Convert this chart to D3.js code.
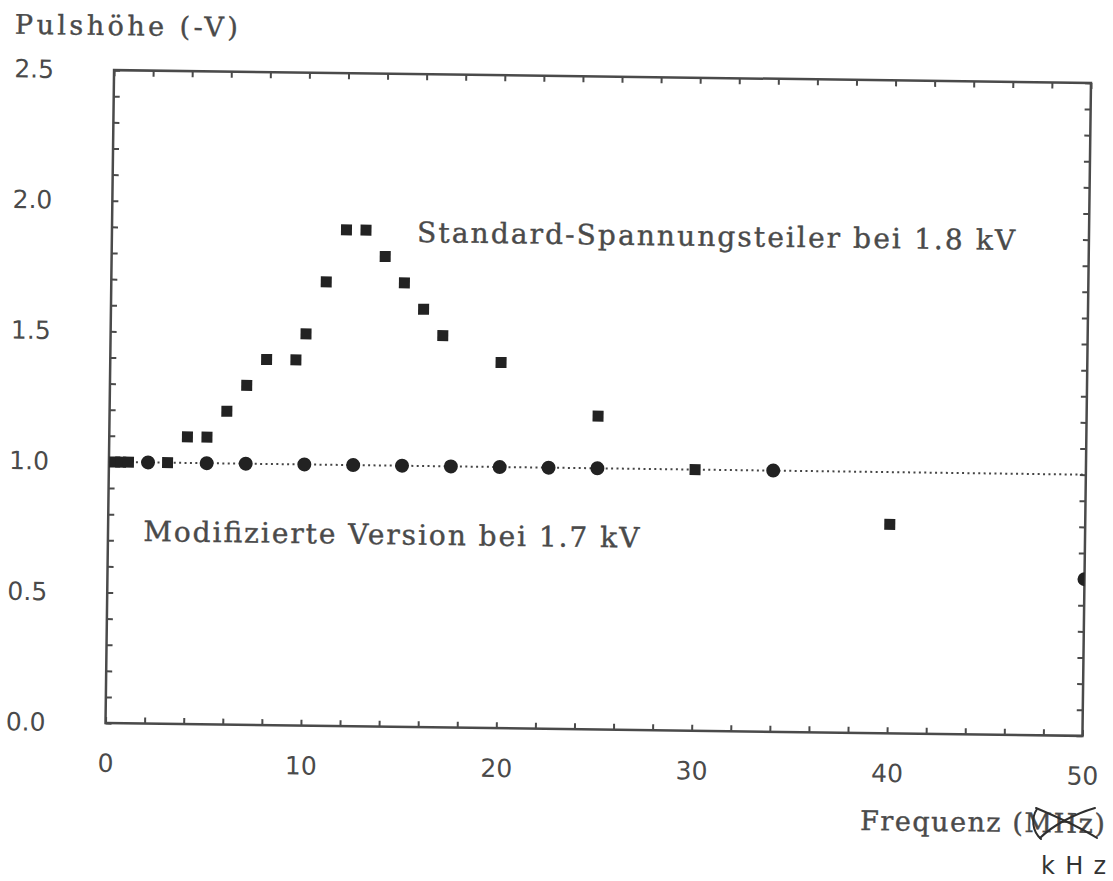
<!DOCTYPE html>
<html>
<head>
<meta charset="utf-8">
<script src="https://cdn.jsdelivr.net/npm/d3@7"></script>
<style>
  body { margin: 0; background: #fff; }
  svg { display: block; }
</style>
</head>
<body>
<svg id="chart" width="1113" height="881"></svg>
<script>
// Standard voltage divider at 1.8 kV (squares)
const stdFreq  = [0.3, 0.6, 1.0, 3, 4, 5, 6, 7, 8, 9.5, 10, 11, 12, 13, 14, 15, 16, 17, 20, 25, 30, 40];
const stdPulse = [1.0, 1.0, 1.0, 1.0, 1.1, 1.1, 1.2, 1.3, 1.4, 1.4, 1.5, 1.7, 1.9, 1.9, 1.8, 1.7, 1.6, 1.5, 1.4, 1.2, 1.0, 0.8];

// Modified version at 1.7 kV (circles)
const modFreq  = [2, 5, 7, 10, 12.5, 15, 17.5, 20, 22.5, 25, 34, 50];
const modPulse = [1.0, 1.0, 1.0, 1.0, 1.0, 1.0, 1.0, 1.0, 1.0, 1.0, 1.0, 0.6];

// Dotted reference level
const refLevel = 1.0;

// Axis ticks
const xTicks = [0, 10, 20, 30, 40, 50];
const xMinor = d3.range(0, 51, 2);
const yTicks = [0, 0.5, 1.0, 1.5, 2.0, 2.5];
const yMinor = d3.range(0, 26).map(i => i / 10);

const ink = "#4a4a4a";
const markInk = "#222";

const frame = { left: 109.75, right: 1086.75, top: 76.5, bottom: 729.5 };

const svg = d3.select("#chart");
// the whole plotted sheet sits slightly turned
const g = svg.append("g").attr("transform", "rotate(0.75, 598.25, 403)");

const x = d3.scaleLinear().domain([0, 50]).range([frame.left, frame.right]);
const y = d3.scaleLinear().domain([0, 2.5]).range([frame.bottom, frame.top]);

svg.append("defs").append("clipPath").attr("id", "plotClip")
  .append("rect")
  .attr("x", frame.left).attr("y", frame.top)
  .attr("width", frame.right - frame.left)
  .attr("height", frame.bottom - frame.top);

// inward tick marks on all four sides
function ticks(axis, tx, ty) {
  const a = g.append("g").attr("transform", `translate(${tx},${ty})`).call(axis);
  a.select(".domain").remove();
  a.selectAll("line").attr("stroke", ink).attr("stroke-width", 2);
  return a;
}
ticks(d3.axisBottom(x).tickValues(xMinor).tickSizeInner(-6).tickSizeOuter(0).tickFormat(""), 0, frame.bottom);
ticks(d3.axisTop(x).tickValues(xMinor).tickSizeInner(-6).tickSizeOuter(0).tickFormat(""), 0, frame.top);
ticks(d3.axisLeft(y).tickValues(yMinor).tickSizeInner(-6).tickSizeOuter(0).tickFormat(""), frame.left, 0);
ticks(d3.axisRight(y).tickValues(yMinor).tickSizeInner(-6).tickSizeOuter(0).tickFormat(""), frame.right, 0);

// tick labels
function labels(axis, tx, ty) {
  const a = g.append("g").attr("transform", `translate(${tx},${ty})`).call(axis);
  a.select(".domain").remove();
  a.selectAll("line").remove();
  a.attr("font-family", "'DejaVu Sans', sans-serif").attr("font-size", 25);
  a.selectAll("text").attr("fill", ink);
  return a;
}
labels(d3.axisBottom(x).tickValues(xTicks).tickSize(0).tickPadding(31).tickFormat(d3.format("d")), 0, frame.bottom);
labels(d3.axisLeft(y).tickValues(yTicks).tickSize(0).tickPadding(60).tickFormat(d3.format(".1f")), frame.left, 0);

// frame
g.append("rect")
  .attr("x", frame.left).attr("y", frame.top)
  .attr("width", frame.right - frame.left)
  .attr("height", frame.bottom - frame.top)
  .attr("fill", "none").attr("stroke", ink).attr("stroke-width", 2.5);

const plot = g.append("g").attr("clip-path", "url(#plotClip)");

// dotted reference line
plot.append("line")
  .attr("x1", x(0)).attr("x2", x(50))
  .attr("y1", y(refLevel)).attr("y2", y(refLevel))
  .attr("stroke", "#444").attr("stroke-width", 2)
  .attr("stroke-dasharray", "2 3.4");

// standard divider: filled squares
const sq = 11;
plot.selectAll("rect.std")
  .data(d3.zip(stdFreq, stdPulse))
  .join("rect")
  .attr("class", "std")
  .attr("x", d => x(d[0]) - sq / 2)
  .attr("y", d => y(d[1]) - sq / 2)
  .attr("width", sq).attr("height", sq)
  .attr("fill", markInk);

// modified version: filled circles
plot.selectAll("circle.mod")
  .data(d3.zip(modFreq, modPulse))
  .join("circle")
  .attr("class", "mod")
  .attr("cx", d => x(d[0]))
  .attr("cy", d => y(d[1]))
  .attr("r", 7)
  .attr("fill", markInk);

// titles and series annotations
const serif = "'DejaVu Serif', serif";
function label(text, tx, ty, size, len) {
  g.append("text")
    .attr("x", tx).attr("y", ty)
    .attr("font-family", serif).attr("font-size", size)
    .attr("fill", ink)
    .attr("stroke", ink).attr("stroke-width", 0.4)
    .attr("textLength", len).attr("lengthAdjust", "spacing")
    .text(text);
}
label("Pulshöhe (-V)", 10, 41.5, 27, 223);
label("Standard-Spannungsteiler bei 1.8 kV", 415, 244.5, 28, 598);
label("Modifizierte Version bei 1.7 kV", 145, 547, 28, 496);
label("Frequenz (MHz)", 865.5, 826.5, 27, 245);

// hand correction of the unit
const pen = svg.append("g")
  .attr("fill", "none").attr("stroke", "#2e2e2e")
  .attr("stroke-width", 2).attr("stroke-linecap", "round");
pen.append("path").attr("d", "M1036,808 C1055,816 1078,826 1097,838");
pen.append("path").attr("d", "M1040,838 C1052,826 1074,814 1095,808");
pen.append("path").attr("d", "M1037,809 C1031,818 1032,831 1041,839");

svg.append("text")
  .attr("x", 1041).attr("y", 874)
  .attr("font-family", "'DejaVu Sans', sans-serif")
  .attr("font-size", 24)
  .attr("fill", "#333")
  .attr("textLength", 65).attr("lengthAdjust", "spacing")
  .text("kHz");
</script>
</body>
</html>
